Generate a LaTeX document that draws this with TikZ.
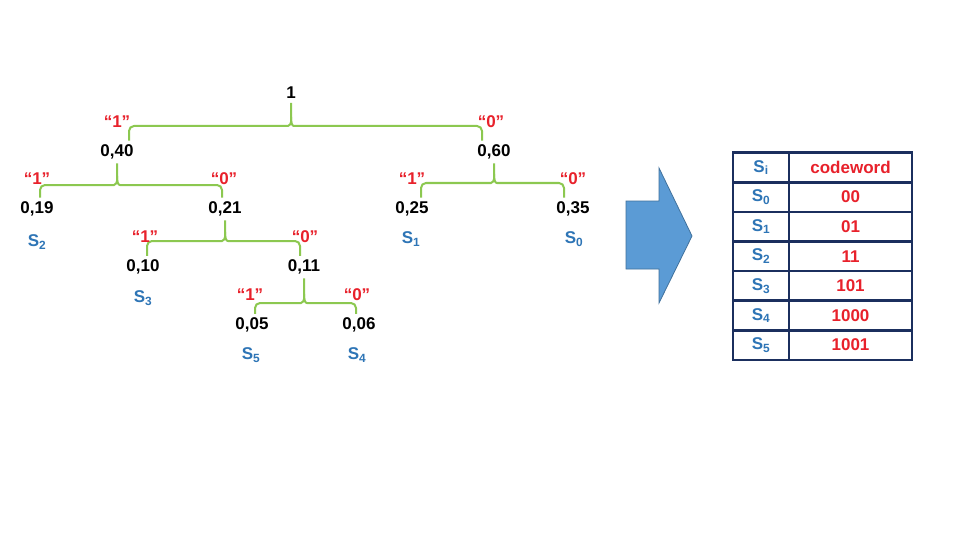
\documentclass[tikz,border=0pt]{standalone}
\usepackage{fontspec}
\setmainfont{Liberation Sans}
\usetikzlibrary{calc}

\definecolor{bracegreen}{HTML}{8CC850}
\definecolor{bitred}{HTML}{E8212B}
\definecolor{symblue}{HTML}{2E75B6}
\definecolor{arrowblue}{HTML}{5B9BD5}
\definecolor{arrowedge}{HTML}{41719C}
\definecolor{tablenavy}{HTML}{1B2F5E}

% brace under a parent: parent, left child, right child, bar y, inset
\newcommand{\huffbrace}[5]{%
  \draw[brace] ($(#2.north)+(#5,0)$) |- ($(#1.south |- 0,#4)+(-8,0)$)
    .. controls ($(#1.south |- 0,#4)+(-1,0)$) and ($(#1.south |- 0,#4)+(0,-3)$)
    .. ($(#1.south |- 0,#4)+(0,-9)$) -- (#1.south);
  \draw[brace] ($(#3.north)+(-#5,0)$) |- ($(#1.south |- 0,#4)+(8,0)$)
    .. controls ($(#1.south |- 0,#4)+(1,0)$) and ($(#1.south |- 0,#4)+(0,-3)$)
    .. ($(#1.south |- 0,#4)+(0,-9)$);
}

\begin{document}
\begin{tikzpicture}[x=1pt,y=-1pt,
    num/.style={font=\fontsize{17}{19}\selectfont\bfseries,inner sep=2pt,outer sep=2pt},
    bit/.style={num,text=bitred},
    sym/.style={num,text=symblue},
    brace/.style={draw=bracegreen,line width=2pt,rounded corners=5pt},
    cell/.style={draw=tablenavy,line width=2.5pt,inner sep=0pt,minimum height=29.6pt,
                 font=\fontsize{17}{19}\selectfont\bfseries}]
  \fill[white] (0,0) rectangle (960,540);
  \useasboundingbox (0,0) rectangle (960,540);

  % probabilities
  \node[num] (root) at (291,93)  {1};
  \node[num] (p40)  at (117,152) {0,40};
  \node[num] (p60)  at (494,152) {0,60};
  \node[num] (p19)  at (37,209)  {0,19};
  \node[num] (p21)  at (225,209) {0,21};
  \node[num] (p25)  at (412,209) {0,25};
  \node[num] (p35)  at (573,209) {0,35};
  \node[num] (p10)  at (143,267) {0,10};
  \node[num] (p11)  at (304,267) {0,11};
  \node[num] (p05)  at (252,325) {0,05};
  \node[num] (p06)  at (359,325) {0,06};

  % symbols
  \node[sym] (s2) at (37,242)  {S\textsubscript{2}};
  \node[sym] (s1) at (411,239) {S\textsubscript{1}};
  \node[sym] (s0) at (574,239) {S\textsubscript{0}};
  \node[sym] (s3) at (143,298) {S\textsubscript{3}};
  \node[sym] (s5) at (251,355) {S\textsubscript{5}};
  \node[sym] (s4) at (357,355) {S\textsubscript{4}};

  % braces
  \huffbrace{root}{p40}{p60}{126}{12}
  \huffbrace{p40}{p19}{p21}{185}{3}
  \huffbrace{p60}{p25}{p35}{183}{9}
  \huffbrace{p21}{p10}{p11}{241}{4}
  \huffbrace{p11}{p05}{p06}{303}{3}

  % bits
  \node[bit] (b40) at (117,122) {“1”};
  \node[bit] (b60) at (491,122) {“0”};
  \node[bit] (b19) at (37,179)  {“1”};
  \node[bit] (b21) at (224,179) {“0”};
  \node[bit] (b25) at (412,179) {“1”};
  \node[bit] (b35) at (573,179) {“0”};
  \node[bit] (b10) at (145,237) {“1”};
  \node[bit] (b11) at (305,237) {“0”};
  \node[bit] (b05) at (250,295) {“1”};
  \node[bit] (b06) at (357,295) {“0”};

  % block arrow
  \filldraw[fill=arrowblue,draw=arrowedge,line width=0.8pt]
    (626,201) -- (659,201) -- (659,168) -- (692,236) -- (659,303)
    -- (659,269) -- (626,269) -- cycle;

  % code table
  \foreach \sub/\code [count=\r from 0] in {i/codeword,0/00,1/01,2/11,3/101,4/1000,5/1001}{
    \node[cell,minimum width=56pt,text=symblue] (sym\r) at (761,{167.5+29.6*\r}) {S\textsubscript{\sub}};
    \node[cell,minimum width=123pt,text=bitred] (code\r) at (850.5,{167.5+29.6*\r}) {\code};
  }
\end{tikzpicture}
\end{document}
